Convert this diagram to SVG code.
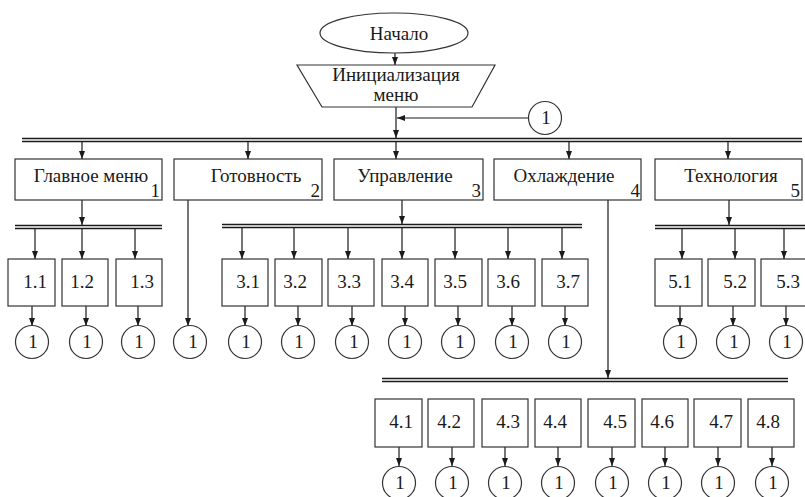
<svg xmlns="http://www.w3.org/2000/svg" width="805" height="497" viewBox="0 0 805 497" font-family="'Liberation Serif', 'DejaVu Serif', serif">
<defs>
<marker id="ah" viewBox="0 0 8 6" refX="8" refY="3" markerWidth="8" markerHeight="6" markerUnits="userSpaceOnUse" orient="auto">
<path d="M0,0 L8,3 L0,6 z" fill="#1a1a1a"/>
</marker>
<style>
.box{fill:#fff;stroke:#333;stroke-width:1.2}
text{font-family:'Liberation Serif','DejaVu Serif',serif}
.t{font-size:19px;fill:#1a1a1a;text-anchor:middle}
.n{font-size:19px;fill:#1a1a1a;text-anchor:end}
.ar{stroke:#1a1a1a;stroke-width:1.2;fill:none;marker-end:url(#ah)}
.bus{stroke:#1a1a1a;stroke-width:1.6;fill:none}
</style>
</defs>
<rect width="805" height="497" fill="#fff"/>

<g id="connectors">
<path class="ar" d="M395,53 V65"/>
<path class="ar" d="M396,107 V138"/>
<path class="ar" d="M528,118 H397"/>
<path class="bus" d="M22,138.5 H802 M22,141.5 H802"/>
<path class="ar" d="M82,141 V159"/>
<path class="ar" d="M248,141 V159"/>
<path class="ar" d="M396,141 V159"/>
<path class="ar" d="M569,141 V159"/>
<path class="ar" d="M728,141 V159"/>
<path class="ar" d="M82,200 V225"/>
<path class="bus" d="M15,225.5 H162 M15,228.5 H162"/>
<path class="ar" d="M35,228 V259"/>
<path class="ar" d="M82,228 V259"/>
<path class="ar" d="M135,228 V259"/>
<path class="ar" d="M188,200 V326"/>
<path class="ar" d="M402,200 V224"/>
<path class="bus" d="M222,224.5 H582 M222,227.5 H582"/>
<path class="ar" d="M242,227 V259"/>
<path class="ar" d="M294,227 V259"/>
<path class="ar" d="M348,227 V259"/>
<path class="ar" d="M402,227 V259"/>
<path class="ar" d="M455,227 V259"/>
<path class="ar" d="M508,227 V259"/>
<path class="ar" d="M562,227 V259"/>
<path class="ar" d="M729,200 V225"/>
<path class="bus" d="M655,225.5 H805 M655,228.5 H805"/>
<path class="ar" d="M682,228 V259"/>
<path class="ar" d="M735,228 V259"/>
<path class="ar" d="M784,228 V259"/>
<path class="ar" d="M608,200 V378"/>
<path class="bus" d="M382,378.5 H788 M382,381.5 H788"/>
<path class="ar" d="M32,306 V326"/>
<path class="ar" d="M86,306 V326"/>
<path class="ar" d="M138,306 V326"/>
<path class="ar" d="M245,306 V326"/>
<path class="ar" d="M298,306 V326"/>
<path class="ar" d="M352,306 V326"/>
<path class="ar" d="M405,306 V326"/>
<path class="ar" d="M458,306 V326"/>
<path class="ar" d="M512,306 V326"/>
<path class="ar" d="M565,306 V326"/>
<path class="ar" d="M680,306 V326"/>
<path class="ar" d="M733,306 V326"/>
<path class="ar" d="M786,306 V326"/>
<path class="ar" d="M399,447 V466"/>
<path class="ar" d="M452,447 V466"/>
<path class="ar" d="M505,447 V466"/>
<path class="ar" d="M558,447 V466"/>
<path class="ar" d="M612,447 V466"/>
<path class="ar" d="M665,447 V466"/>
<path class="ar" d="M718,447 V466"/>
<path class="ar" d="M772,447 V466"/>
</g>

<g id="start"><ellipse class="box" cx="394" cy="33" rx="74" ry="20"/><text class="t" x="399" y="40">Начало</text></g>
<g id="init"><polygon class="box" points="297,65 495,65 472,107 322,107"/><text class="t" x="396" y="81" font-size="17">Инициализация</text><text class="t" x="396" y="101" font-size="17">меню</text></g>
<g id="c-top"><circle class="box" cx="545" cy="118" r="16.5"/><text class="t" x="546" y="124">1</text></g>

<g id="m1"><rect class="box" x="15" y="159" width="147" height="41"/><text class="t" x="91" y="182">Главное меню</text><text class="n" x="160" y="197">1</text></g>
<g id="m2"><rect class="box" x="174" y="159" width="148" height="41"/><text class="t" x="256" y="182">Готовность</text><text class="n" x="320" y="197">2</text></g>
<g id="m3"><rect class="box" x="334" y="159" width="149" height="41"/><text class="t" x="405" y="182">Управление</text><text class="n" x="481" y="197">3</text></g>
<g id="m4"><rect class="box" x="494" y="159" width="147" height="41"/><text class="t" x="564" y="182">Охлаждение</text><text class="n" x="640" y="197">4</text></g>
<g id="m5"><rect class="box" x="655" y="159" width="147" height="41"/><text class="t" x="731" y="182">Технология</text><text class="n" x="800" y="197">5</text></g>

<g id="s1-1"><rect class="box" x="8" y="259" width="47" height="47"/><text class="t" x="35" y="288">1.1</text></g>
<g id="s1-2"><rect class="box" x="62" y="259" width="46" height="47"/><text class="t" x="82" y="288">1.2</text></g>
<g id="s1-3"><rect class="box" x="116" y="259" width="46" height="47"/><text class="t" x="142" y="288">1.3</text></g>
<g id="s3-1"><rect class="box" x="222" y="259" width="46" height="47"/><text class="t" x="248" y="288">3.1</text></g>
<g id="s3-2"><rect class="box" x="275" y="259" width="47" height="47"/><text class="t" x="295" y="288">3.2</text></g>
<g id="s3-3"><rect class="box" x="328" y="259" width="46" height="47"/><text class="t" x="349" y="288">3.3</text></g>
<g id="s3-4"><rect class="box" x="382" y="259" width="46" height="47"/><text class="t" x="402" y="288">3.4</text></g>
<g id="s3-5"><rect class="box" x="435" y="259" width="47" height="47"/><text class="t" x="455" y="288">3.5</text></g>
<g id="s3-6"><rect class="box" x="488" y="259" width="47" height="47"/><text class="t" x="508" y="288">3.6</text></g>
<g id="s3-7"><rect class="box" x="542" y="259" width="46" height="47"/><text class="t" x="568" y="288">3.7</text></g>
<g id="s5-1"><rect class="box" x="655" y="259" width="47" height="47"/><text class="t" x="680" y="288">5.1</text></g>
<g id="s5-2"><rect class="box" x="708" y="259" width="47" height="47"/><text class="t" x="735" y="288">5.2</text></g>
<g id="s5-3"><rect class="box" x="761" y="259" width="47" height="47"/><text class="t" x="788" y="288">5.3</text></g>

<g id="s4-1"><rect class="box" x="375" y="399" width="47" height="48"/><text class="t" x="401" y="428">4.1</text></g>
<g id="s4-2"><rect class="box" x="428" y="399" width="46" height="48"/><text class="t" x="449" y="428">4.2</text></g>
<g id="s4-3"><rect class="box" x="482" y="399" width="46" height="48"/><text class="t" x="508" y="428">4.3</text></g>
<g id="s4-4"><rect class="box" x="535" y="399" width="46" height="48"/><text class="t" x="555" y="428">4.4</text></g>
<g id="s4-5"><rect class="box" x="588" y="399" width="47" height="48"/><text class="t" x="615" y="428">4.5</text></g>
<g id="s4-6"><rect class="box" x="642" y="399" width="46" height="48"/><text class="t" x="662" y="428">4.6</text></g>
<g id="s4-7"><rect class="box" x="694" y="399" width="47" height="48"/><text class="t" x="721" y="428">4.7</text></g>
<g id="s4-8"><rect class="box" x="748" y="399" width="46" height="48"/><text class="t" x="768" y="428">4.8</text></g>

<g id="c1-1"><circle class="box" cx="32" cy="342" r="16.5"/><text class="t" x="33" y="348">1</text></g>
<g id="c1-2"><circle class="box" cx="86" cy="342" r="16.5"/><text class="t" x="87" y="348">1</text></g>
<g id="c1-3"><circle class="box" cx="138" cy="342" r="16.5"/><text class="t" x="139" y="348">1</text></g>
<g id="c2"><circle class="box" cx="190" cy="342" r="16.5"/><text class="t" x="193" y="348">1</text></g>
<g id="c3-1"><circle class="box" cx="245" cy="342" r="16.5"/><text class="t" x="246" y="348">1</text></g>
<g id="c3-2"><circle class="box" cx="298" cy="342" r="16.5"/><text class="t" x="299" y="348">1</text></g>
<g id="c3-3"><circle class="box" cx="352" cy="342" r="16.5"/><text class="t" x="354" y="348">1</text></g>
<g id="c3-4"><circle class="box" cx="405" cy="342" r="16.5"/><text class="t" x="407" y="348">1</text></g>
<g id="c3-5"><circle class="box" cx="458" cy="342" r="16.5"/><text class="t" x="460" y="348">1</text></g>
<g id="c3-6"><circle class="box" cx="512" cy="342" r="16.5"/><text class="t" x="513" y="348">1</text></g>
<g id="c3-7"><circle class="box" cx="565" cy="342" r="16.5"/><text class="t" x="566" y="348">1</text></g>
<g id="c5-1"><circle class="box" cx="680" cy="342" r="16.5"/><text class="t" x="681" y="348">1</text></g>
<g id="c5-2"><circle class="box" cx="733" cy="342" r="16.5"/><text class="t" x="734" y="348">1</text></g>
<g id="c5-3"><circle class="box" cx="786" cy="342" r="16.5"/><text class="t" x="787" y="348">1</text></g>

<g id="c4-1"><circle class="box" cx="399" cy="483" r="16.5"/><text class="t" x="400" y="489">1</text></g>
<g id="c4-2"><circle class="box" cx="452" cy="483" r="16.5"/><text class="t" x="453" y="489">1</text></g>
<g id="c4-3"><circle class="box" cx="505" cy="483" r="16.5"/><text class="t" x="506" y="489">1</text></g>
<g id="c4-4"><circle class="box" cx="558" cy="483" r="16.5"/><text class="t" x="559" y="489">1</text></g>
<g id="c4-5"><circle class="box" cx="612" cy="483" r="16.5"/><text class="t" x="613" y="489">1</text></g>
<g id="c4-6"><circle class="box" cx="665" cy="483" r="16.5"/><text class="t" x="666" y="489">1</text></g>
<g id="c4-7"><circle class="box" cx="718" cy="483" r="16.5"/><text class="t" x="719" y="489">1</text></g>
<g id="c4-8"><circle class="box" cx="772" cy="483" r="16.5"/><text class="t" x="773" y="489">1</text></g>
</svg>
